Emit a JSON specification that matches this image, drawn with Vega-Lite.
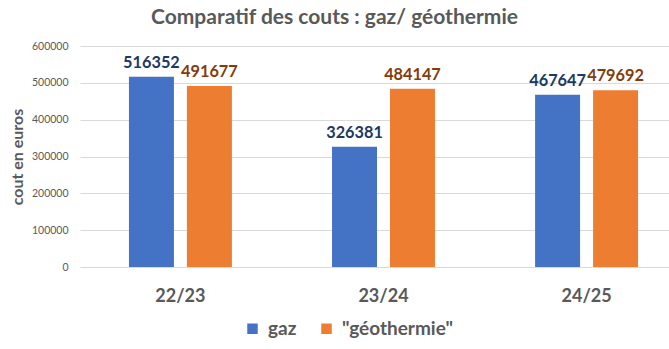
{
  "$schema": "https://vega.github.io/schema/vega-lite/v6.json",
  "autosize": {"type": "none"},
  "padding": {"left": 80, "top": 46, "right": 0, "bottom": 82},
  "width": 589,
  "height": 221,
  "background": "white",
  "config": {"font": "Lato", "view": {"stroke": null}},
  "title": {"text": "Comparatif des couts : gaz/ géothermie", "fontSize": 21, "fontWeight": "bold", "color": "#595959", "anchor": "middle", "dx": -40, "offset": 13, "font": "Lato"},
  "data": {"values": [
    {"annee": "22/23", "serie": "gaz", "cout": 516352},
    {"annee": "22/23", "serie": "\"géothermie\"", "cout": 491677},
    {"annee": "23/24", "serie": "gaz", "cout": 326381},
    {"annee": "23/24", "serie": "\"géothermie\"", "cout": 484147},
    {"annee": "24/25", "serie": "gaz", "cout": 467647},
    {"annee": "24/25", "serie": "\"géothermie\"", "cout": 479692}
  ]},
  "encoding": {
    "x": {"field": "annee", "type": "nominal", "sort": null,
      "scale": {"range": [0, 607], "paddingInner": 0.493, "paddingOuter": 0.241},
      "axis": {"title": null, "labelFontSize": 18, "labelFontWeight": "bold", "labelColor": "#595959", "labelPadding": 20, "ticks": false, "domain": false, "labelAngle": 0}},
    "xOffset": {"field": "serie", "type": "nominal", "sort": ["gaz", "\"géothermie\""], "scale": {"paddingInner": 0.224, "paddingOuter": 0}},
    "y": {"field": "cout", "type": "quantitative", "scale": {"domain": [0, 600000]},
      "axis": {"title": "cout en euros", "titleFontSize": 16, "titleFontWeight": "bold", "titleColor": "#595959", "titlePadding": 6,
        "values": [0, 100000, 200000, 300000, 400000, 500000, 600000], "format": "d", "labelFontSize": 10.5, "labelColor": "#595959", "labelPadding": 12,
        "ticks": false, "domain": false, "gridColor": "#d9d9d9", "gridWidth": 1}}
  },
  "layer": [
    {"mark": {"type": "bar"},
     "encoding": {"color": {"field": "serie", "type": "nominal", "sort": ["gaz", "\"géothermie\""],
        "scale": {"domain": ["gaz", "\"géothermie\""], "range": ["#4472C4", "#ED7D31"]},
        "legend": {"title": null, "orient": "none", "direction": "horizontal", "legendX": 163, "legendY": 273, "symbolType": "square", "symbolSize": 110, "symbolStrokeWidth": 0, "labelFontSize": 19, "labelFontWeight": "bold", "labelColor": "#595959", "columnPadding": 20, "labelOffset": 6}}}},
    {"mark": {"type": "text", "baseline": "bottom", "dy": -6, "fontSize": 16.3, "fontWeight": "bold", "font": "Lato"},
     "encoding": {"text": {"field": "cout", "type": "quantitative", "format": "d"},
       "color": {"field": "serie", "type": "nominal", "scale": {"domain": ["gaz", "\"géothermie\""], "range": ["#203864", "#843C0C"]}, "legend": null}}}
  ],
  "resolve": {"scale": {"color": "independent"}}
}
